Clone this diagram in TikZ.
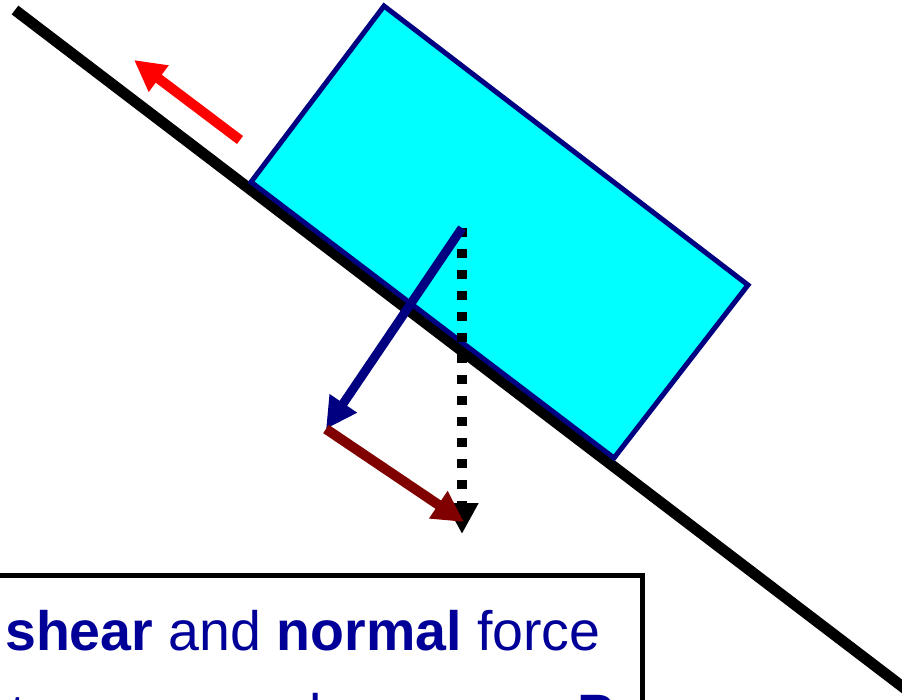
\documentclass[tikz,border=0pt]{standalone}
\usepackage{fontspec}
\setmainfont{Liberation Sans}
\usetikzlibrary{arrows.meta}

\definecolor{blockfill}{RGB}{0,255,255}
\definecolor{navyline}{RGB}{0,0,128}
\definecolor{darkred}{RGB}{128,0,0}
\definecolor{textblue}{RGB}{0,0,153}

\begin{document}
\begin{tikzpicture}[
    x=1pt, y=-1pt,
    incline/.style={line width=11pt, black},
    block/.style={fill=blockfill, draw=navyline, line width=5pt},
    force/.style={line width=10pt, -{Triangle[length=31pt, width=31pt]}},
    dotted force/.style={force, dash pattern=on 9pt off 12pt},
    textframe/.style={draw=black, line width=5pt},
    boxtext/.style={
        inner sep=0pt, anchor=base west, text=textblue,
        font=\fontsize{55.5}{66}\selectfont
    }
]
\useasboundingbox (0,0) rectangle (902,699);

\coordinate (slopeTop) at (15,10);
\coordinate (slopeEnd) at (912,694);
\coordinate (cornerL) at (251,182);
\coordinate (cornerT) at (384,6);
\coordinate (cornerR) at (748,285);
\coordinate (cornerB) at (614,458);
\coordinate (centre) at (462,228);
\coordinate (normTip) at (326,429);
\coordinate (shearTip) at (464,522);
\coordinate (weightTip) at (462,534);
\coordinate (pushTail) at (240,140);
\coordinate (pushTip) at (134,60);

\draw[incline] (slopeTop) -- (slopeEnd);
\draw[block] (cornerL) -- (cornerT) -- (cornerR) -- (cornerB) -- cycle;

\draw[force, red] (pushTail) -- (pushTip);
\draw[dotted force, black] (centre) -- (weightTip);
\draw[force, navyline, line width=9pt] (centre) -- (normTip);
\draw[force, darkred] (normTip) -- (shearTip);

\draw[textframe] (-20,575.5) rectangle (642,780);
\node[boxtext] (lineA) at (5,650) {\textbf{shear} and \textbf{normal} force};
\node[boxtext] (lineB) at (10,733) {to cause a slope mass \textbf{P}};
\end{tikzpicture}
\end{document}
